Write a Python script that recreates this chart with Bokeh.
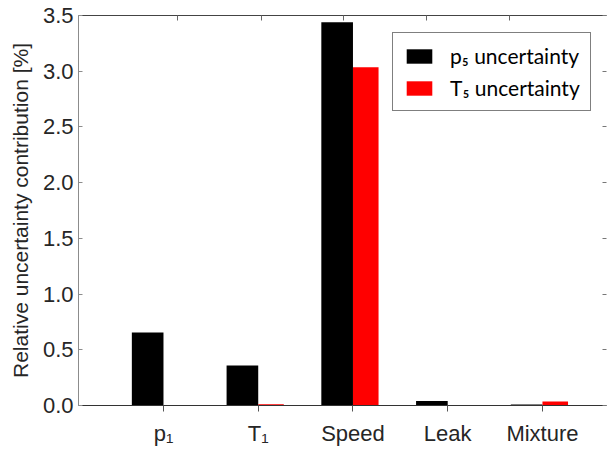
from bokeh.plotting import figure
from bokeh.models import (FixedTicker, LinearAxis, Range1d, Legend, LegendItem,
                          ColumnDataSource, NumeralTickFormatter, CustomLabelingPolicy)
from bokeh.embed import file_html
from bokeh.resources import INLINE

# ---- data ----
categories = ["p\u2081", "T\u2081", "Speed", "Leak", "Mixture"]
p5_uncertainty = [0.655, 0.36, 3.44, 0.04, 0.01]
T5_uncertainty = [0.0, 0.012, 3.035, 0.0, 0.037]
series_labels = ["p\u2085 uncertainty", "T\u2085 uncertainty"]
y_ticks = [0.0, 0.5, 1.0, 1.5, 2.0, 2.5, 3.0, 3.5]
top_ticks = [1.15, 2.03, 2.9, 3.78, 4.65]
y_label = "Relative uncertainty contribution [%]"

# ---- layout ----
x_pos = [i + 1 for i in range(len(categories))]
black_w = 0.334
red_w = 0.27

src_p = ColumnDataSource(dict(x=[v - black_w / 2 for v in x_pos], top=p5_uncertainty))
src_t = ColumnDataSource(dict(x=[v + red_w / 2 for v in x_pos], top=T5_uncertainty))

FONT = "Liberation Sans"
TXT = "#262626"

no_labels = CustomLabelingPolicy(code="""
for (let i = 0; i < indices.size; i++) { indices.unset(i) }
return indices
""")

p = figure(width=607, height=452, x_range=Range1d(0.103, 5.676), y_range=Range1d(0, 3.5),
           output_backend="svg", toolbar_location=None,
           min_border_left=78, min_border_right=1, min_border_top=15, min_border_bottom=47)
p.outline_line_color = None
p.xgrid.visible = False
p.ygrid.visible = False
p.background_fill_color = "white"

r1 = p.vbar(x="x", top="top", width=black_w, bottom=0, source=src_p,
            fill_color="black", line_color=None)
r2 = p.vbar(x="x", top="top", width=red_w, bottom=0, source=src_t,
            fill_color="#ff0000", line_color=None)

# left axis
ya = p.yaxis[0]
ya.ticker = FixedTicker(ticks=y_ticks)
ya.formatter = NumeralTickFormatter(format="0.0")
ya.axis_label = y_label
ya.axis_label_text_font = FONT
ya.axis_label_text_font_size = "21px"
ya.axis_label_text_font_style = "normal"
ya.axis_label_text_color = TXT
ya.axis_label_standoff = 8
ya.major_label_text_font = FONT
ya.major_label_text_font_size = "22px"
ya.major_label_text_color = TXT
ya.major_label_standoff = 5
ya.major_tick_in = 4
ya.major_tick_out = 0
ya.minor_tick_line_color = None
ya.axis_line_color = "#8c8c8c"
ya.major_tick_line_color = "#8c8c8c"

# bottom axis
xa = p.xaxis[0]
xa.ticker = FixedTicker(ticks=x_pos)
xa.major_label_overrides = {v: c for v, c in zip(x_pos, categories)}
xa.major_label_text_font = FONT
xa.major_label_text_font_size = "22px"
xa.major_label_text_color = TXT
xa.major_label_standoff = 9
xa.major_tick_in = 0
xa.major_tick_out = 6
xa.minor_tick_line_color = None
xa.axis_line_color = "#333333"
xa.major_tick_line_color = "#555555"

# top axis
ta = LinearAxis(ticker=FixedTicker(ticks=top_ticks), major_label_policy=no_labels,
                major_label_text_font_size="0px",
                major_tick_in=5, major_tick_out=0, minor_tick_line_color=None,
                axis_line_color="#444444", major_tick_line_color="#666666",
                major_label_standoff=0)
p.add_layout(ta, "above")

# right axis (frame edge itself is outside the picture)
ra = LinearAxis(ticker=FixedTicker(ticks=y_ticks), major_label_policy=no_labels,
                major_label_text_font_size="0px",
                major_tick_in=4, major_tick_out=0, minor_tick_line_color=None,
                axis_line_color=None, major_tick_line_color="#777777",
                major_label_standoff=0)
p.add_layout(ra, "right")

legend = Legend(items=[LegendItem(label=series_labels[0], renderers=[r1]),
                       LegendItem(label=series_labels[1], renderers=[r2])],
                location=(314, 294))
legend.border_line_color = "black"
legend.border_line_width = 1.5
legend.padding = 10
legend.spacing = 7
legend.margin = 0
legend.glyph_width = 32
legend.glyph_height = 18
legend.label_height = 18
legend.label_standoff = 15
legend.label_text_font = "Lato"
legend.label_text_font_size = "21px"
legend.label_text_color = "black"
legend.background_fill_color = "white"
p.add_layout(legend)

open("out.html", "w").write(file_html(p, INLINE))
